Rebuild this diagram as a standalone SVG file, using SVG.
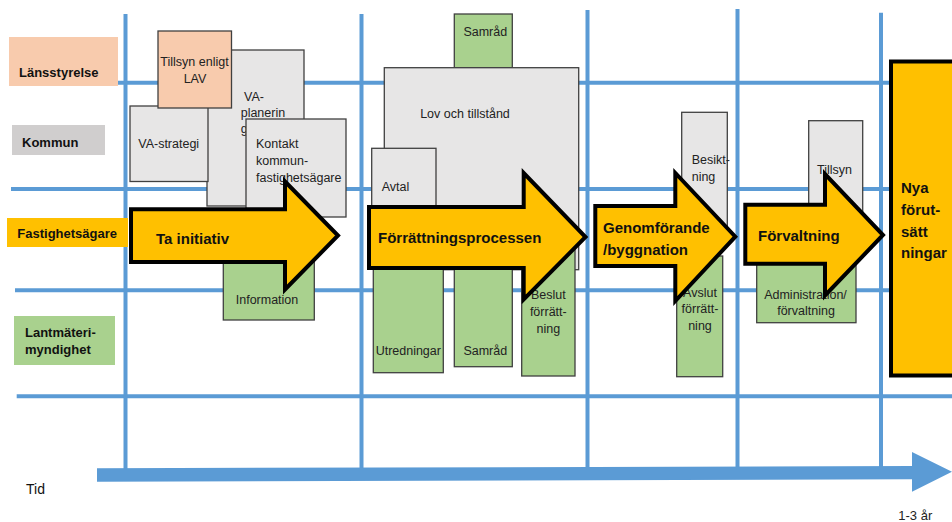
<svg xmlns="http://www.w3.org/2000/svg" width="952" height="522" viewBox="0 0 952 522">
<style>
  .grid line { stroke: #5B9BD5; stroke-width: 4; }
  .axis { fill: #5B9BD5; }
  .box { stroke: #404040; stroke-width: 1.3; }
  .grey { fill: #E7E6E6; }
  .green { fill: #A9D18E; }
  .peach { fill: #F8CBAD; }
  .phase { fill: #FFC000; stroke: #000; stroke-width: 4; stroke-linejoin: miter; }
  .lbl { font-family: "Liberation Sans", Arial, sans-serif; font-size: 12.5px; fill: #222; }
  .mid { text-anchor: middle; }
  .row { font-family: "Liberation Sans", Arial, sans-serif; font-size: 13px; font-weight: bold; fill: #111; }
  .big { font-family: "Liberation Sans", Arial, sans-serif; font-size: 15px; font-weight: bold; fill: #111; }
  .plain { font-family: "Liberation Sans", Arial, sans-serif; font-size: 14px; fill: #111; }
</style>
<rect width="952" height="522" fill="#fff"/>

<g id="grid" class="grid">
  <line x1="14" y1="82.7" x2="952" y2="82.7"/>
  <line x1="11" y1="189" x2="952" y2="189"/>
  <line x1="15" y1="290.3" x2="952" y2="290.3"/>
  <line x1="16.7" y1="396.3" x2="952" y2="396.3"/>
  <line x1="125.5" y1="14" x2="125.5" y2="470"/>
  <line x1="361.5" y1="14" x2="361.5" y2="470"/>
  <line x1="587.5" y1="10" x2="587.5" y2="468"/>
  <line x1="737.5" y1="9" x2="737.5" y2="468"/>
  <line x1="881" y1="12.7" x2="881" y2="467"/>
</g>

<g id="connectors">
  <path id="time-axis" class="axis" d="M97,468.3 L912,466 L912,452 L952,471.7 L912,491.7 L912,479.3 L97,481.7 Z"/>
</g>

<g id="row-lansstyrelse">
  <rect x="9" y="37" width="109" height="49" fill="#F8CBAD"/>
  <text class="row" x="19" y="77.3">Länsstyrelse</text>
</g>
<g id="row-kommun">
  <rect x="12" y="125" width="93" height="30" fill="#D0CECE"/>
  <text class="row" x="22" y="146.7">Kommun</text>
</g>
<g id="row-fastighetsagare">
  <rect x="7" y="218" width="121" height="29" fill="#FFC000"/>
  <text class="row" x="17.3" y="238.3">Fastighetsägare</text>
</g>
<g id="row-lantmateri">
  <rect x="14" y="316" width="101" height="49" fill="#A9D18E"/>
  <text class="row" x="25" y="336.7">Lantmäteri-</text>
  <text class="row" x="25" y="354.3">myndighet</text>
</g>

<g id="n-va-planering">
  <rect class="box grey" x="207" y="50" width="97" height="156"/>
  <text class="lbl" x="244" y="101">VA-</text>
  <text class="lbl" x="240.7" y="116.7">planerin</text>
  <text class="lbl" x="240.7" y="132.7">g</text>
</g>
<g id="n-va-strategi">
  <rect class="box grey" x="130" y="106" width="78" height="75.5"/>
  <text class="lbl mid" x="168.7" y="147.7">VA-strategi</text>
</g>
<g id="n-tillsyn-lav">
  <rect class="box peach" x="158" y="31" width="73.5" height="77"/>
  <text class="lbl mid" x="194.5" y="66">Tillsyn enligt</text>
  <text class="lbl mid" x="195" y="83.3">LAV</text>
</g>
<g id="n-kontakt">
  <rect class="box grey" x="246" y="119" width="100" height="98"/>
  <text class="lbl" x="256" y="148.3">Kontakt</text>
  <text class="lbl" x="256" y="165">kommun-</text>
  <text class="lbl" x="256" y="181.7">fastighetsägare</text>
</g>
<g id="n-information">
  <rect class="box green" x="223.3" y="250" width="91" height="70"/>
  <text class="lbl mid" x="267" y="304">Information</text>
</g>

<g id="n-samrad-top">
  <rect class="box green" x="454.3" y="14" width="58" height="53.7"/>
  <text class="lbl mid" x="485.3" y="36">Samråd</text>
</g>
<g id="n-lov">
  <rect class="box grey" x="384.3" y="67.7" width="194.4" height="202"/>
  <text class="lbl mid" x="465" y="118.3">Lov och tillstånd</text>
</g>
<g id="n-avtal">
  <rect class="box grey" x="371.7" y="148.3" width="64.3" height="90"/>
  <text class="lbl" x="381.7" y="190.7">Avtal</text>
</g>
<g id="n-utredningar">
  <rect class="box green" x="373.3" y="250" width="70" height="122.7"/>
  <text class="lbl mid" x="408.3" y="355">Utredningar</text>
</g>
<g id="n-samrad-bottom">
  <rect class="box green" x="454.3" y="250" width="58" height="116.7"/>
  <text class="lbl mid" x="485.3" y="355">Samråd</text>
</g>
<g id="n-beslut">
  <rect class="box green" x="521.7" y="232" width="53.3" height="144"/>
  <text class="lbl mid" x="548.3" y="299">Beslut</text>
  <text class="lbl mid" x="548.3" y="316">förrätt-</text>
  <text class="lbl mid" x="548.3" y="333">ning</text>
</g>

<g id="n-besiktning">
  <rect class="box grey" x="681.7" y="112.3" width="45.6" height="127.7"/>
  <text class="lbl" x="691.7" y="164">Besikt-</text>
  <text class="lbl" x="691.7" y="181">ning</text>
</g>
<g id="n-avslut">
  <rect class="box green" x="676.7" y="256" width="46" height="120.7"/>
  <text class="lbl mid" x="700" y="297.3">Avslut</text>
  <text class="lbl mid" x="700" y="313.3">förrätt-</text>
  <text class="lbl mid" x="700" y="330">ning</text>
</g>
<g id="n-tillsyn">
  <rect class="box grey" x="808.7" y="120.7" width="54" height="119.3"/>
  <text class="lbl mid" x="834.5" y="174">Tillsyn</text>
</g>
<g id="n-administration">
  <rect class="box green" x="756.7" y="258" width="99.3" height="64.7"/>
  <text class="lbl mid" x="805.5" y="299">Administration/</text>
  <text class="lbl mid" x="806" y="315">förvaltning</text>
</g>

<g id="p-ta-initiativ">
  <path class="phase" d="M131,209.3 H285 V181.5 L338,235.5 L285,289.5 V262 H131 Z"/>
  <text class="big" x="156" y="244">Ta initiativ</text>
</g>
<g id="p-forrattning">
  <path class="phase" d="M369,207 H523.7 V173 L585.5,237 L523.7,299.5 V268 H369 Z"/>
  <text class="big" x="378" y="243">Förrättningsprocessen</text>
</g>
<g id="p-genomforande">
  <path class="phase" d="M595.3,206 H675.3 V173 L735.3,236.7 L675.3,301 V266 H595.3 Z"/>
  <text class="big" x="603" y="233">Genomförande</text>
  <text class="big" x="603" y="255">/byggnation</text>
</g>
<g id="p-forvaltning">
  <path class="phase" d="M745.3,204.7 H825 V174 L883,235 L825,295.5 V263.7 H745.3 Z"/>
  <text class="big" x="758" y="241">Förvaltning</text>
</g>
<g id="p-nya-forutsattningar">
  <rect class="phase" x="891" y="61.5" width="70" height="314"/>
  <text class="big" x="901" y="193">Nya</text>
  <text class="big" x="901" y="215">förut-</text>
  <text class="big" x="901" y="236.5">sätt</text>
  <text class="big" x="901" y="258">ningar</text>
</g>

<g id="axis-labels">
  <text class="plain" x="26" y="494">Tid</text>
  <text class="lbl" x="898.3" y="520" style="font-size:13px">1-3 år</text>
</g>
</svg>
